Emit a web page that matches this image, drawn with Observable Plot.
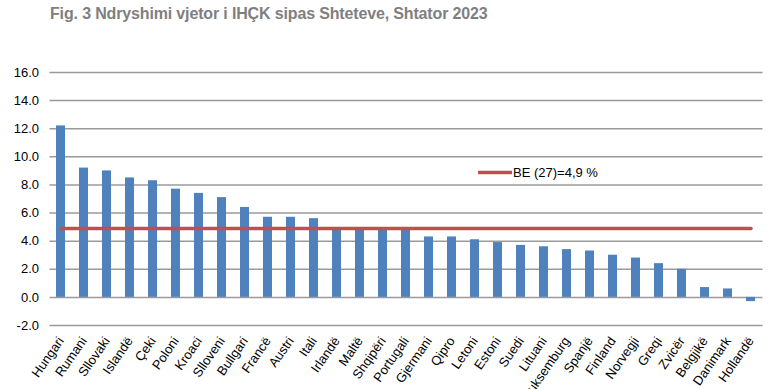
<!DOCTYPE html>
<html>
<head>
<meta charset="utf-8">
<script src="https://cdn.jsdelivr.net/npm/d3@7"></script>
<script src="https://cdn.jsdelivr.net/npm/@observablehq/plot@0.6"></script>
<style>
  body { margin: 0; background: #fff; }
  #wrap { position: relative; width: 777px; height: 389px; overflow: hidden; }
  #title { position: absolute; left: 50px; top: 5px; font: bold 16px/1.15 "Liberation Sans", Arial, sans-serif; color: #7f7f7f; letter-spacing: -0.15px; white-space: nowrap; }
  svg { display: block; }
</style>
</head>
<body>
<div id="wrap">
  <div id="chart"></div>
  <div id="title">Fig. 3 Ndryshimi vjetor i IHÇK sipas Shteteve, Shtator 2023</div>
</div>
<script>
const countries = ["Hungari","Rumani","Sllovaki","Islandë","Çeki","Poloni","Kroaci","Slloveni","Bullgari","Francë","Austri","Itali","Irlandë","Maltë","Shqipëri","Portugali","Gjermani","Qipro","Letoni","Estoni","Suedi","Lituani","Luksemburg","Spanjë","Finland","Norvegji","Greqi","Zvicër","Belgjikë","Danimark","Hollandë"];
const values = [12.2, 9.2, 9.0, 8.5, 8.3, 7.7, 7.4, 7.1, 6.4, 5.7, 5.7, 5.6, 4.9, 4.8, 4.8, 4.8, 4.3, 4.3, 4.1, 3.9, 3.7, 3.6, 3.4, 3.3, 3.0, 2.8, 2.4, 2.0, 0.7, 0.6, -0.3];
const euAverage = 4.9;
const euLabel = "BE (27)=4,9 %";
const yTicks = [-2, 0, 2, 4, 6, 8, 10, 12, 14, 16];

const data = countries.map((c, i) => ({country: c, value: values[i]}));
const avgLine = countries.map(c => ({country: c, value: euAverage}));

const chart = Plot.plot({
  width: 777,
  height: 389,
  marginTop: 72,
  marginBottom: 64,
  marginLeft: 49.5,
  marginRight: 14.5,
  style: {fontFamily: "'Liberation Sans', Arial, sans-serif", fontSize: "12px", color: "#000", background: "#fff"},
  x: {domain: countries, paddingInner: 0.6, paddingOuter: 0.3, label: null},
  y: {domain: [-2, 16], label: null},
  marks: [
    Plot.ruleY(yTicks, {stroke: "#9a9a9a", strokeWidth: 1.5}),
    Plot.barY(data, {x: "country", y: "value", fill: "#4F81BD"}),
    Plot.line(avgLine, {x: "country", y: "value", stroke: "#C0504D", strokeWidth: 3.5}),
    Plot.axisY({ticks: yTicks, tickFormat: d => d.toFixed(1), tickSize: 0, tickPadding: 11, fontSize: 13, fill: "#000"}),
    Plot.axisX({tickRotate: -55, tickSize: 0, tickPadding: 13, fontSize: 13, fill: "#000"})
  ]
});
document.getElementById("chart").appendChild(chart);

// Legend inside the SVG, positioned with the chart's y scale
const ys = chart.scale("y");
const svg = d3.select(chart);
const lx = 478, ly = ys.apply(8) - 12;
svg.append("line").attr("x1", lx).attr("x2", lx + 34).attr("y1", ly).attr("y2", ly)
  .attr("stroke", "#C0504D").attr("stroke-width", 3.5);
svg.append("text").attr("x", lx + 35).attr("y", ly).attr("dy", "0.35em")
  .attr("text-anchor", "start").attr("font-size", 13).attr("fill", "#000").text(euLabel);
</script>
</body>
</html>
